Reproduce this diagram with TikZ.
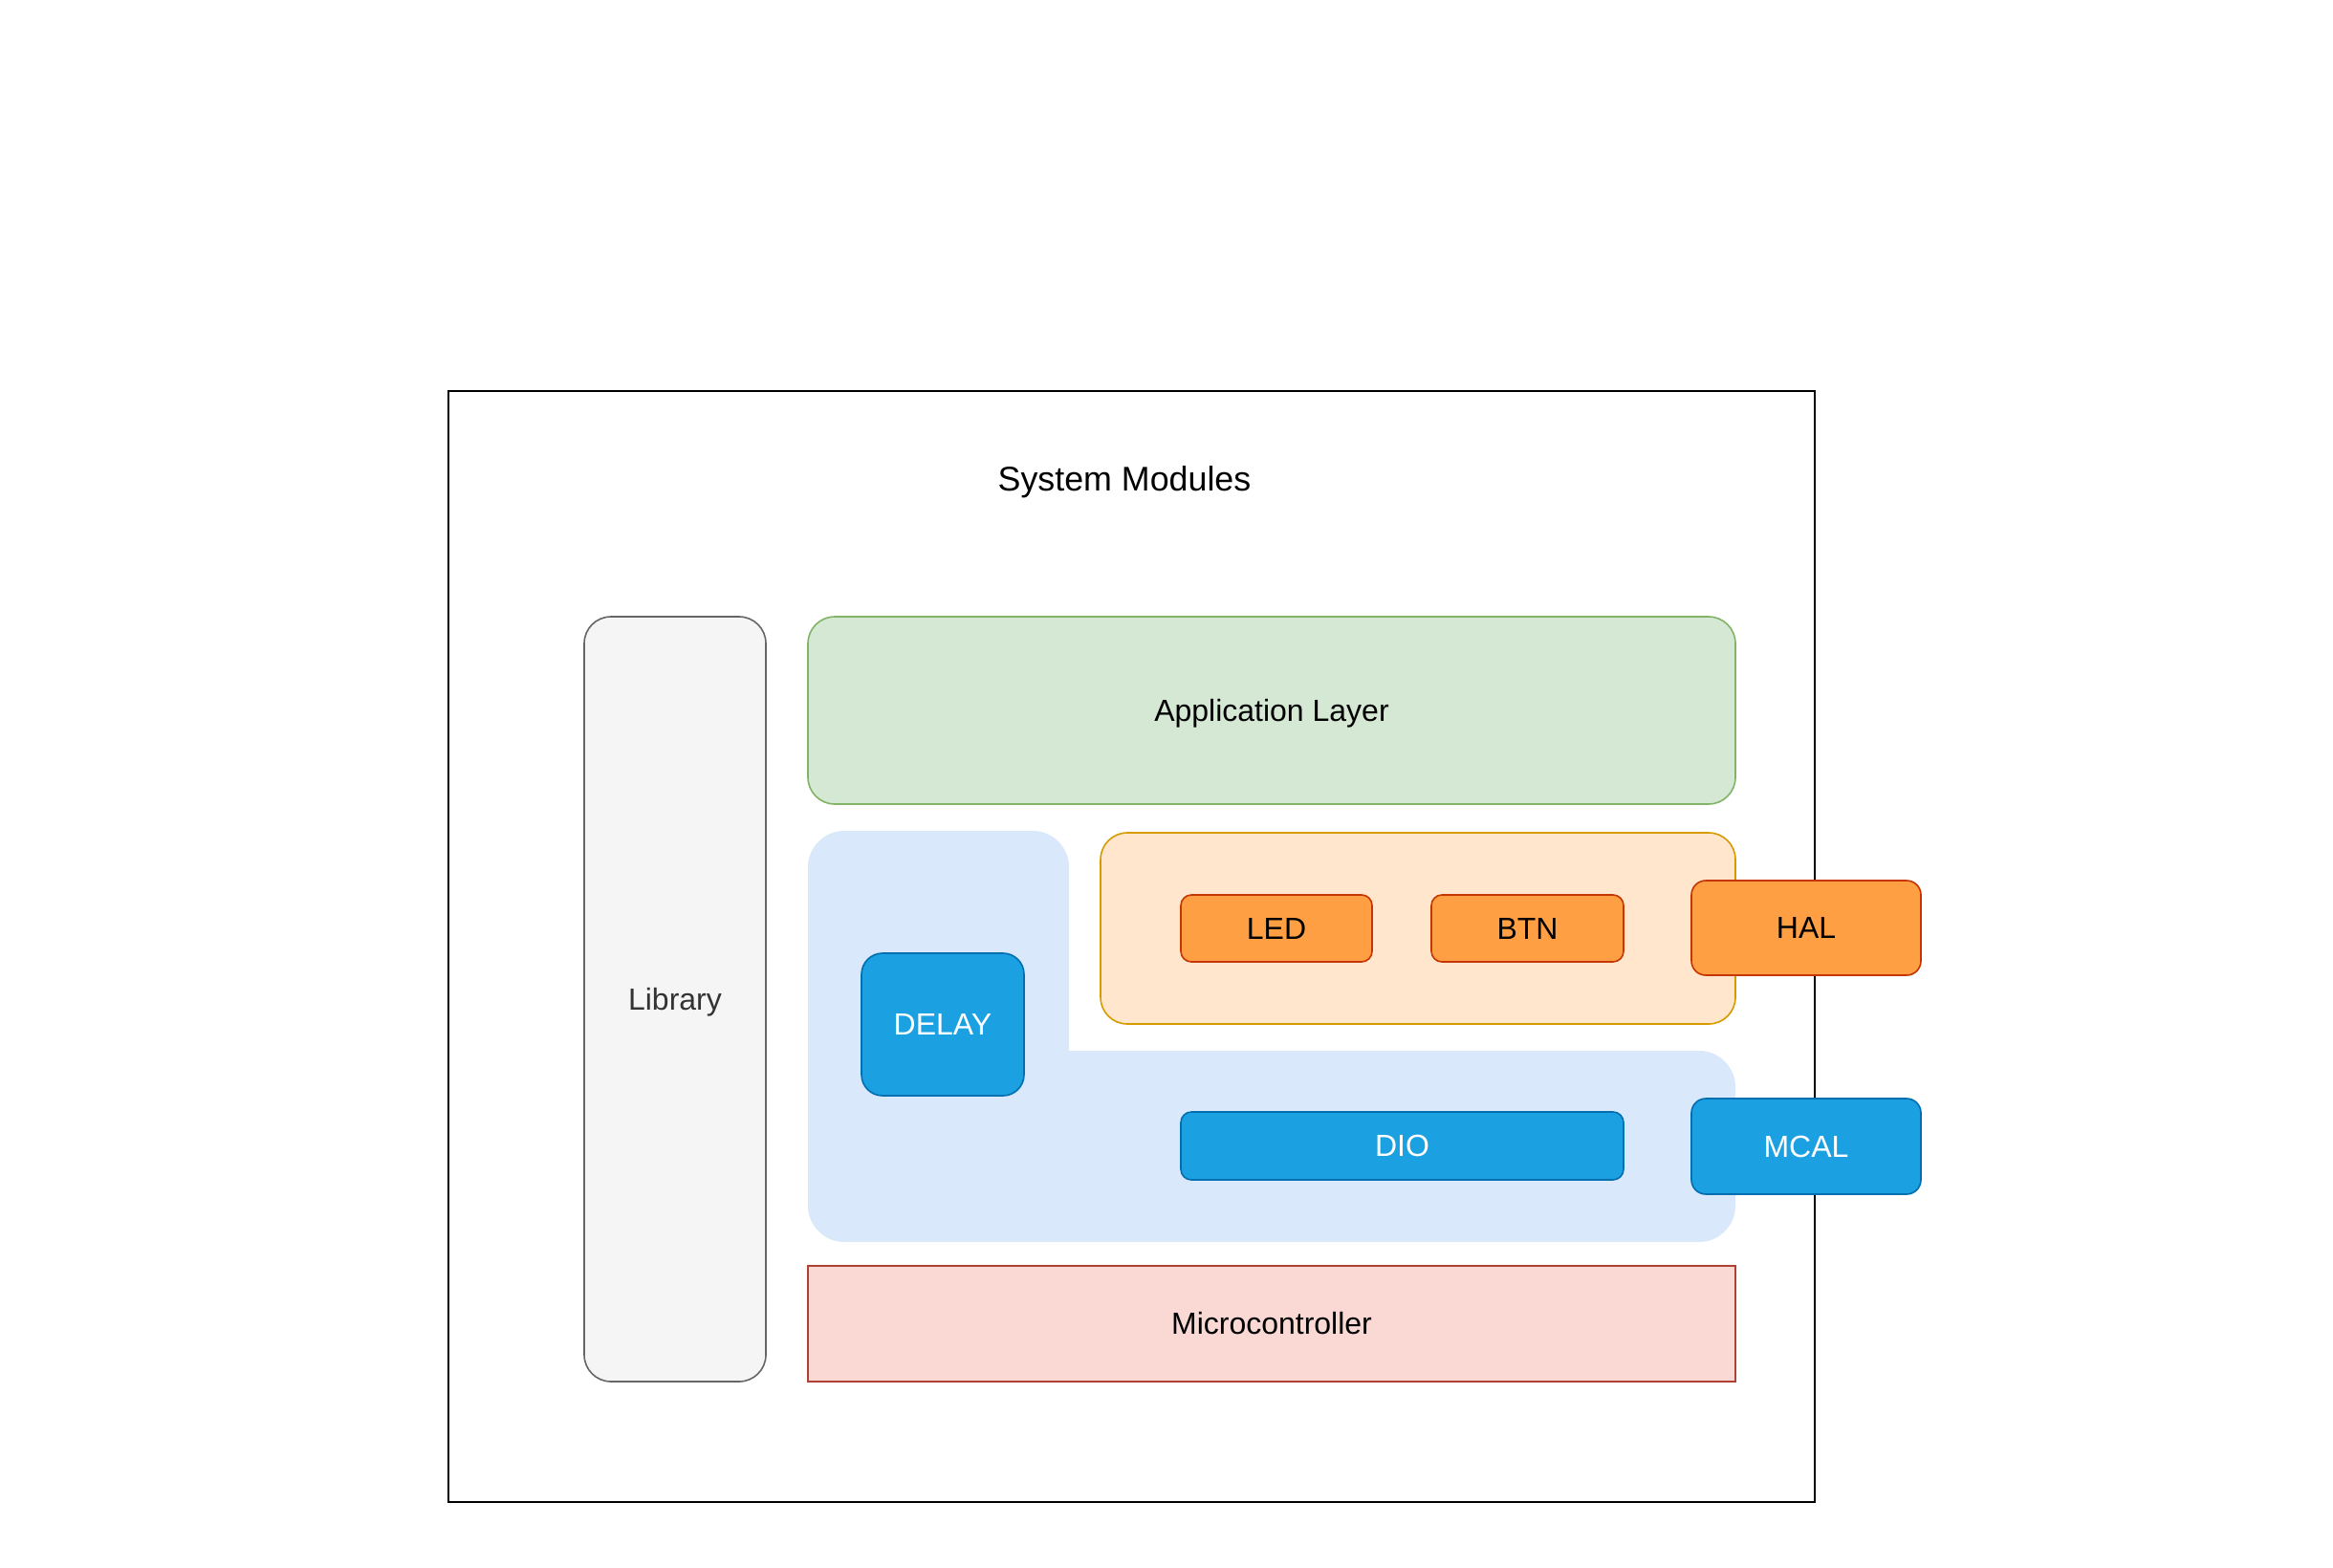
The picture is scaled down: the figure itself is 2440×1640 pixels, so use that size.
\documentclass[tikz,border=0pt]{standalone}
\usepackage{fontspec}
\setmainfont{Liberation Sans}
\definecolor{libfill}{HTML}{F5F5F5}
\definecolor{libline}{HTML}{666666}
\definecolor{libtext}{HTML}{333333}
\definecolor{appfill}{HTML}{D5E8D4}
\definecolor{appline}{HTML}{82B366}
\definecolor{bluereg}{HTML}{DAE8FC}
\definecolor{orgfill}{HTML}{FFE6CC}
\definecolor{orgline}{HTML}{D79B00}
\definecolor{halfill}{HTML}{FF9F43}
\definecolor{halline}{HTML}{C73500}
\definecolor{mcfill}{HTML}{1BA1E2}
\definecolor{mcline}{HTML}{006EAF}
\definecolor{ucfill}{HTML}{FAD9D5}
\definecolor{ucline}{HTML}{AE4132}
\tikzset{
  box/.style={rectangle, inner sep=0pt, outer sep=0pt, line width=1.6pt,
    font=\fontsize{32}{38}\selectfont, text height=22.9pt, text depth=0pt, align=center},
  libbox/.style={box, draw=libline, fill=libfill, text=libtext, rounded corners=28pt},
  appbox/.style={box, draw=appline, fill=appfill, rounded corners=28pt},
  orgbox/.style={box, draw=orgline, fill=orgfill, rounded corners=28pt},
  halbox/.style={box, draw=halline, fill=halfill, text=black},
  mcbox/.style={box, draw=mcline, fill=mcfill, text=white},
  ucbox/.style={box, draw=ucline, fill=ucfill},
}
\begin{document}
\begin{tikzpicture}[x=1pt,y=-1pt]
\useasboundingbox (0,0) rectangle (2440,1640);
% outer container
\node[rectangle, draw=black, line width=2pt, minimum width=1429pt, minimum height=1162pt, inner sep=0pt] (outer) at (1183.5,990) {};
\node[font=\fontsize{35.8}{42}\selectfont, text height=25.6pt, text depth=0pt, inner sep=0pt] (title) at (1176,501) {System Modules};
% library
\node[libbox, minimum width=190pt, minimum height=800pt] (lib) at (706,1045) {Library};
% application layer
\node[appbox, minimum width=970pt, minimum height=196pt] (app) at (1330,743) {Application Layer};
% blue MCAL region (L-shape)
\fill[bluereg] (1118,1099) -- (1777,1099)
  arc[start angle=270, end angle=360, radius=38] -- (1815,1261)
  arc[start angle=0, end angle=90, radius=38] -- (883,1299)
  arc[start angle=90, end angle=180, radius=38] -- (845,907)
  arc[start angle=180, end angle=270, radius=38] -- (1080,869)
  arc[start angle=270, end angle=360, radius=38] -- (1118,1099) -- cycle;
% orange HAL region
\node[orgbox, minimum width=664pt, minimum height=200pt] (halreg) at (1483,971) {};
% HAL modules
\node[halbox, rounded corners=11pt, minimum width=200pt, minimum height=70pt] (led) at (1335,971) {LED};
\node[halbox, rounded corners=11pt, minimum width=201pt, minimum height=70pt] (btn) at (1597.5,971) {BTN};
\node[halbox, rounded corners=15pt, minimum width=240pt, minimum height=99pt] (hal) at (1889,970.5) {HAL};
% MCAL modules
\node[mcbox, rounded corners=22pt, minimum width=170pt, minimum height=149pt] (delay) at (986,1071.5) {DELAY};
\node[mcbox, rounded corners=11pt, minimum width=463pt, minimum height=71pt] (dio) at (1466.5,1198.5) {DIO};
\node[mcbox, rounded corners=15pt, minimum width=240pt, minimum height=100pt] (mcal) at (1889,1199) {MCAL};
% microcontroller
\node[ucbox, minimum width=970pt, minimum height=121pt] (uc) at (1330,1384.5) {Microcontroller};
\end{tikzpicture}
\end{document}
